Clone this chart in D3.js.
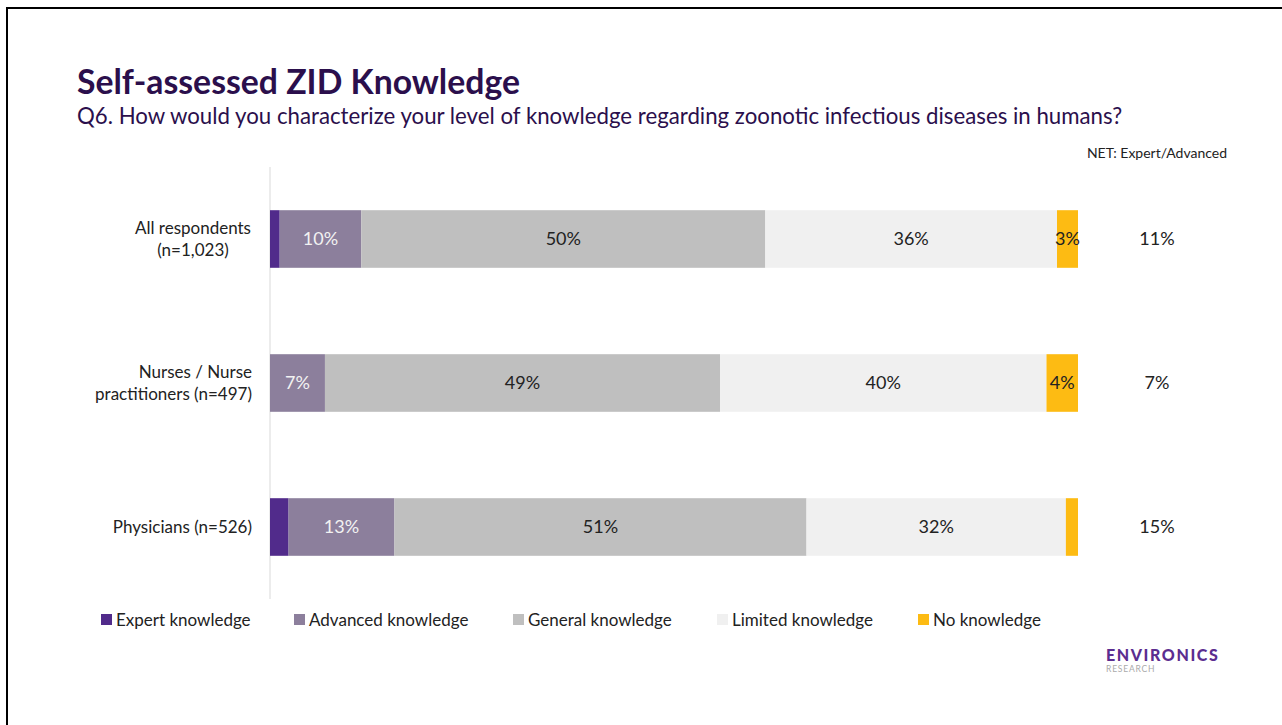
<!DOCTYPE html>
<html>
<head>
<meta charset="utf-8">
<script src="https://cdn.jsdelivr.net/npm/d3@7"></script>
<style>
  body { margin: 0; background: #fff; }
  text { font-family: Lato, "Open Sans", sans-serif; }
</style>
</head>
<body>
<div id="chart"></div>
<script>
// chart data
const categories = ["All respondents (n=1,023)", "Nurses / Nurse practitioners (n=497)", "Physicians (n=526)"];
const catLines = [["All respondents", "(n=1,023)"], ["Nurses / Nurse", "practitioners (n=497)"], ["Physicians (n=526)"]];
const seriesNames = ["Expert knowledge", "Advanced knowledge", "General knowledge", "Limited knowledge", "No knowledge"];
const expert = [1.2, 0, 2.3];
const advanced = [10.1, 6.8, 13.1];
const general = [50, 48.9, 51];
const limited = [36.1, 40.4, 32.1];
const noKnowledge = [2.6, 3.9, 1.5];
const netExpertAdvanced = [11, 7, 15];

const colors = ["#512b8b", "#8c7f9c", "#bfbfbf", "#f0f0f0", "#fdbb13"];
const labelColors = ["#ffffff", "#f2f2f2", "#222222", "#222222", "#222222"];

const W = 1282, H = 725;
const svg = d3.select("#chart").append("svg")
  .attr("width", W).attr("height", H);

// slide frame (left + top edge)
svg.append("path")
  .attr("d", "M7," + H + "V8H" + W)
  .attr("fill", "none").attr("stroke", "#000").attr("stroke-width", 2);

// fit a text element to a width by changing its font size
function fitWidth(sel, target) {
  const node = sel.node();
  const fs = parseFloat(sel.attr("font-size"));
  const len = node.getComputedTextLength();
  sel.attr("font-size", fs * target / len);
}

const title = svg.append("text")
  .attr("x", 77).attr("y", 94)
  .attr("font-size", 32).attr("font-weight", 700).attr("fill", "#2b0f4c")
  .text("Self-assessed ZID Knowledge");
fitWidth(title, 443);

const sub = svg.append("text")
  .attr("x", 77).attr("y", 124)
  .attr("font-size", 20).attr("fill", "#2b0f4c")
  .text("Q6. How would you characterize your level of knowledge regarding zoonotic infectious diseases in humans?");
fitWidth(sub, 1046);

// scales
const x = d3.scaleLinear().domain([0, 100]).range([270, 1078]);
const y = d3.scaleBand().domain(categories).range([167, 599]).paddingInner(0.6).paddingOuter(0.3);

const table = categories.map((c, i) => ({
  cat: c,
  values: [expert[i], advanced[i], general[i], limited[i], noKnowledge[i]]
}));
const stack = d3.stack().keys(d3.range(5)).value((d, k) => d.values[k]);
const layers = stack(table);

// axis line
svg.append("line")
  .attr("x1", x(0)).attr("x2", x(0))
  .attr("y1", 167).attr("y2", 599)
  .attr("stroke", "#d9d9d9").attr("stroke-width", 1);

const g = svg.selectAll("g.layer").data(layers).enter().append("g")
  .attr("class", "layer");

g.selectAll("rect").data(d => d.map(p => ({p: p, k: d.key}))).enter().append("rect")
  .attr("x", d => x(d.p[0]))
  .attr("width", d => x(d.p[1]) - x(d.p[0]))
  .attr("y", d => y(d.p.data.cat))
  .attr("height", y.bandwidth())
  .attr("fill", d => colors[d.k]);

g.selectAll("text").data(d => d.map(p => ({p: p, k: d.key}))
    .filter(d => d.p[1] - d.p[0] >= 2.5)).enter().append("text")
  .attr("x", d => (x(d.p[0]) + x(d.p[1])) / 2)
  .attr("y", d => y(d.p.data.cat) + y.bandwidth() / 2)
  .attr("dy", "0.35em")
  .attr("text-anchor", "middle")
  .attr("font-size", 18)
  .attr("fill", d => labelColors[d.k])
  .text(d => Math.round(d.p[1] - d.p[0]) + "%");

// category labels
const catG = svg.selectAll("text.cat").data(categories).enter().append("text")
  .attr("class", "cat")
  .attr("font-size", 17).attr("fill", "#222")
  .attr("text-anchor", (d, i) => i === 0 ? "middle" : "end")
  .attr("y", d => y(d) + y.bandwidth() / 2);
catG.each(function(d, i) {
  const lines = catLines[i];
  const ax = i === 0 ? 193 : 252;
  d3.select(this).selectAll("tspan").data(lines).enter().append("tspan")
    .attr("x", ax)
    .attr("dy", (l, j) => j === 0 ? (0.35 - (lines.length - 1) * 0.65) + "em" : "1.3em")
    .text(l => l);
});

// NET column
svg.append("text")
  .attr("x", 1157).attr("y", 158)
  .attr("text-anchor", "middle").attr("font-size", 14).attr("fill", "#222")
  .text("NET: Expert/Advanced");
svg.selectAll("text.net").data(categories).enter().append("text")
  .attr("class", "net")
  .attr("x", 1157)
  .attr("y", d => y(d) + y.bandwidth() / 2)
  .attr("dy", "0.35em")
  .attr("text-anchor", "middle").attr("font-size", 18).attr("fill", "#222")
  .text((d, i) => netExpertAdvanced[i] + "%");

// legend
const legendX = [101, 294, 513, 717, 918];
const lg = svg.selectAll("g.legend").data(seriesNames).enter().append("g")
  .attr("class", "legend")
  .attr("transform", (d, i) => "translate(" + legendX[i] + ",614)");
lg.append("rect").attr("width", 11).attr("height", 11)
  .attr("fill", (d, i) => colors[i]);
lg.append("text").attr("x", 15).attr("y", 5.5).attr("dy", "0.36em")
  .attr("font-size", 17).attr("fill", "#222")
  .text(d => d);

// logo
svg.append("text")
  .attr("x", 1106).attr("y", 661)
  .attr("font-size", 16).attr("font-weight", 900).attr("fill", "#5b2d90")
  .attr("letter-spacing", 1.6)
  .text("ENVIRONICS");
svg.append("text")
  .attr("x", 1106).attr("y", 672)
  .attr("font-size", 8.5).attr("fill", "#aaaaaa")
  .attr("letter-spacing", 0.8)
  .text("RESEARCH");
</script>
</body>
</html>
